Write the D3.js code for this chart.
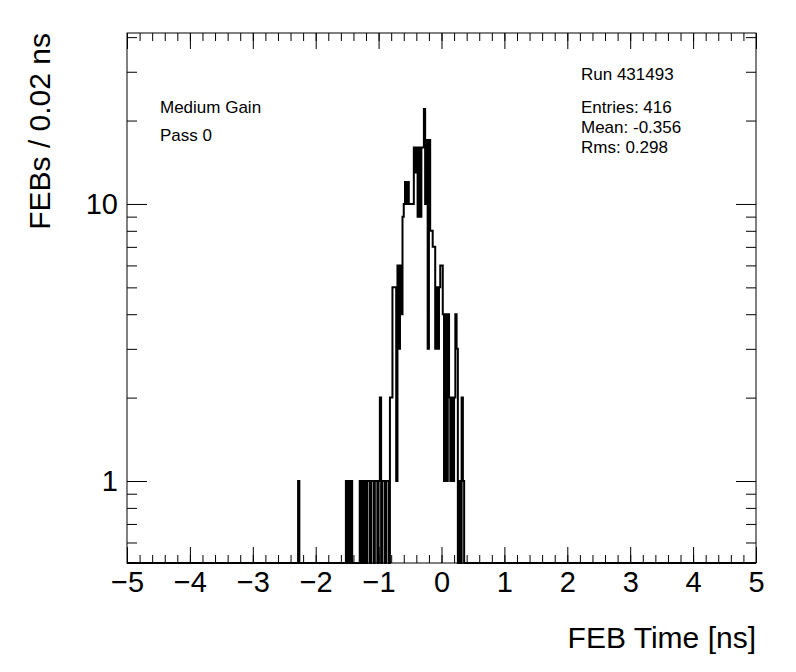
<!DOCTYPE html>
<html lang="en">
<head>
	<meta charset="utf-8">
	<title>FEB Time</title>
	<script src="https://cdn.jsdelivr.net/npm/d3@7/dist/d3.min.js"></script>
	<style>
	body { margin: 0; background: #fff; }
	svg text { font-family: "Liberation Sans", Arial, sans-serif; fill: #000; }
	.axis path { display: none; }
	.axis line { stroke: #000; stroke-width: 1; }
	</style>
</head>
<body>
<svg id="chart" width="796" height="672"></svg>
<script>
// histogram: 500 bins of 0.02 ns from -5 to 5, only the filled bins listed
var binLo = -5, binWidth = 0.02, nBins = 500;
var filledBins = [136, 174, 176, 178, 185, 187,
	189, 191, 192, 194, 195, 197, 198, 200, 201, 203, 204, 206, 207, 209, 210,
	211, 212, 213, 214, 215, 216, 217, 218, 219, 220,
	221, 222, 223, 224, 225, 226, 227, 228, 229, 230, 231, 232, 233, 234,
	235, 236, 237, 238, 239, 240, 241, 242, 243, 244, 245, 246, 247, 248,
	249, 250, 251, 252, 253, 254, 255, 256, 257, 258, 259, 260, 261, 262,
	264, 266, 267];
var filledCounts = [1, 1, 1, 1, 1, 1,
	1, 1, 1, 1, 1, 1, 1, 1, 2, 1, 1, 1, 1, 2, 2,
	5, 5, 5, 1, 6, 3, 6, 4, 9, 10,
	12, 10, 12, 10, 10, 10, 10, 16, 13, 16, 9, 16, 9, 16,
	16, 22, 10, 17, 3, 17, 8, 8, 7, 7, 3, 5, 3, 5,
	6, 6, 4, 1, 4, 1, 4, 2, 1, 2, 1, 2, 4, 3,
	1, 2, 1];

var xTicks = [-5, -4, -3, -2, -1, 0, 1, 2, 3, 4, 5];
var yLabelTicks = [1, 10];
var yMinorTicks = [0.6, 0.7, 0.8, 0.9, 2, 3, 4, 5, 6, 7, 8, 9, 20, 30, 40];

var infoLeft = ["Medium Gain", "Pass 0"];
var runLabel = "Run 431493";
var stats = ["Entries: 416", "Mean: -0.356", "Rms: 0.298"];

var svg = d3.select('#chart');
var fLeft = 127, fRight = 756, fTop = 33, fBottom = 563;

var x = d3.scaleLinear().domain([-5, 5]).range([fLeft, fRight]);
var y = d3.scaleLog().domain([0.506, 41.4]).range([fBottom, fTop]);

var counts = new Array(nBins).fill(0);
filledBins.forEach(function(b, i) { counts[b] = filledCounts[i]; });

// step outline, empty bins drop to the frame bottom
var pts = [];
counts.forEach(function(c, i) {
	var yv = c > 0 ? y(c) : fBottom;
	pts.push([x(binLo + i * binWidth), yv]);
	pts.push([x(binLo + (i + 1) * binWidth), yv]);
});
svg.append('path')
	.attr('d', d3.line()(pts))
	.attr('fill', 'none')
	.attr('stroke', '#000')
	.attr('stroke-width', 2);

// axes: ticks point into the frame
var xMinor = d3.range(-5, 5.001, 0.2).map(function(v) { return Math.round(v * 10) / 10; });

svg.append('g').attr('class', 'axis').attr('transform', 'translate(0,' + fBottom + ')')
	.call(d3.axisBottom(x).tickValues(xMinor).tickSize(-8).tickFormat(''));
svg.append('g').attr('class', 'axis').attr('transform', 'translate(0,' + fBottom + ')')
	.call(d3.axisBottom(x).tickValues(xTicks).tickSize(-16).tickPadding(8).tickFormat(d3.format('d')))
	.selectAll('text').style('font-size', '29px');
svg.append('g').attr('class', 'axis').attr('transform', 'translate(0,' + fTop + ')')
	.call(d3.axisTop(x).tickValues(xMinor).tickSize(-8).tickFormat(''));
svg.append('g').attr('class', 'axis').attr('transform', 'translate(0,' + fTop + ')')
	.call(d3.axisTop(x).tickValues(xTicks).tickSize(-16).tickFormat(''));

svg.append('g').attr('class', 'axis').attr('transform', 'translate(' + fLeft + ',0)')
	.call(d3.axisLeft(y).tickValues(yMinorTicks).tickSize(-10).tickFormat(''));
svg.append('g').attr('class', 'axis').attr('transform', 'translate(' + fLeft + ',0)')
	.call(d3.axisLeft(y).tickValues(yLabelTicks).tickSize(-20).tickPadding(9).tickFormat(d3.format('d')))
	.selectAll('text').style('font-size', '29px');
svg.append('g').attr('class', 'axis').attr('transform', 'translate(' + fRight + ',0)')
	.call(d3.axisRight(y).tickValues(yMinorTicks).tickSize(-10).tickFormat(''));
svg.append('g').attr('class', 'axis').attr('transform', 'translate(' + fRight + ',0)')
	.call(d3.axisRight(y).tickValues(yLabelTicks).tickSize(-20).tickFormat(''));

svg.append('rect')
	.attr('x', fLeft).attr('y', fTop)
	.attr('width', fRight - fLeft).attr('height', fBottom - fTop)
	.attr('fill', 'none').attr('stroke', '#000').attr('stroke-width', 1);

// titles
svg.append('text')
	.attr('x', fRight).attr('y', 648)
	.attr('text-anchor', 'end')
	.style('font-size', '30px')
	.text('FEB Time [ns]');
svg.append('text')
	.attr('transform', 'translate(50,' + fTop + ') rotate(-90)')
	.attr('text-anchor', 'end')
	.style('font-size', '30px')
	.text('FEBs / 0.02 ns');

// labels inside the frame
svg.selectAll('.info').data(infoLeft).enter().append('text')
	.attr('x', 160).attr('y', function(d, i) { return 113 + i * 28; })
	.style('font-size', '17px')
	.text(function(d) { return d; });
svg.append('text')
	.attr('x', 581).attr('y', 80)
	.style('font-size', '17px')
	.text(runLabel);
svg.selectAll('.stat').data(stats).enter().append('text')
	.attr('x', 581).attr('y', function(d, i) { return 113 + i * 20; })
	.style('font-size', '17px')
	.text(function(d) { return d; });
</script>
</body>
</html>
